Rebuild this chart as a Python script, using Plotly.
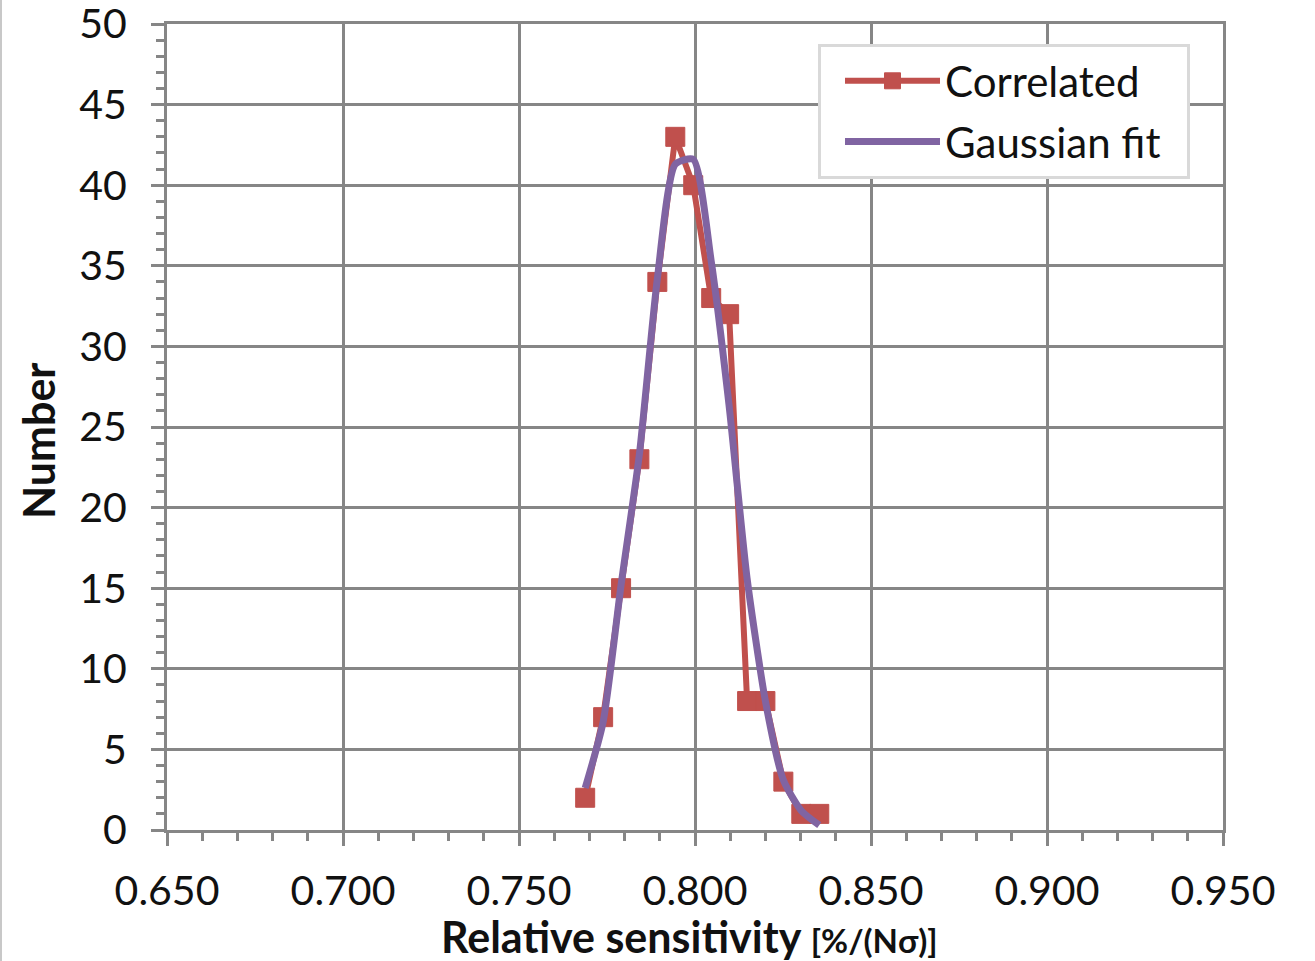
import plotly.graph_objects as go

# Histogram of relative sensitivity and its Gaussian fit
sensitivity = [0.7688, 0.7739, 0.7790, 0.7842, 0.7893, 0.7944, 0.7995,
               0.8046, 0.8097, 0.8148, 0.8200, 0.8251, 0.8302, 0.8353]
correlated = [2, 7, 15, 23, 34, 43, 40, 33, 32, 8, 8, 3, 1, 1]
gaussian_fit = [2.6, 6.7, 15.2, 23.3, 34.2, 41.3, 41.6, 35.3, 26.3,
                15.6, 8.0, 3.1, 1.2, 0.3]

x_ticks = [0.650, 0.700, 0.750, 0.800, 0.850, 0.900, 0.950]
y_ticks = [0, 5, 10, 15, 20, 25, 30, 35, 40, 45, 50]

RED = "#C0504D"
PURPLE = "#8064A2"
GRID = "#868686"
FONT = "Lato"
TEXT = "#111111"

W, H = 1315, 961
L, R, T, B = 167, 92, 24, 131
PW, PH = W - L - R, H - T - B

fig = go.Figure()
fig.add_trace(go.Scatter(
    x=sensitivity, y=correlated, name="Correlated", mode="lines+markers",
    line=dict(color=RED, width=6),
    marker=dict(symbol="square", size=19, color=RED, line=dict(color=RED, width=1)),
    legendgroup="a",
))
fig.add_trace(go.Scatter(
    x=sensitivity, y=gaussian_fit, name="Gaussian fit\u00a0\u00a0", mode="lines",
    line=dict(color=PURPLE, width=7, shape="spline", smoothing=0.6),
    legendgroup="b",
))

axis_common = dict(
    showline=True, linecolor=GRID, linewidth=3, mirror=True,
    showgrid=True, gridcolor=GRID, gridwidth=3,
    ticks="outside", ticklen=13, tickwidth=3, tickcolor=GRID,
    tickfont=dict(family=FONT, size=41, color=TEXT),
    ticklabeloverflow="allow", zeroline=False, automargin=False,
)

fig.update_xaxes(
    range=[0.650, 0.950], tickvals=x_ticks,
    ticktext=[f"{v:.3f}" for v in x_ticks],
    ticklabelstandoff=10,
    minor=dict(dtick=0.01, tick0=0.65, ticks="outside", ticklen=8,
               tickwidth=3, tickcolor=GRID, showgrid=False),
    **axis_common,
)
fig.update_yaxes(
    range=[0, 50], tickvals=y_ticks,
    ticklabelstandoff=16,
    minor=dict(dtick=1, tick0=0, ticks="outside", ticklen=8,
               tickwidth=3, tickcolor=GRID, showgrid=False),
    **axis_common,
)

fig.add_annotation(
    text="<b>Relative sensitivity <span style='font-size:33px'>[%/(Nσ)]</span></b>",
    xref="paper", yref="paper", x=(689 - L) / PW, y=-(936 - (T + PH)) / PH,
    xanchor="center", yanchor="middle", showarrow=False,
    font=dict(family=FONT, size=43, color=TEXT),
)
fig.add_annotation(
    text="<b>Number</b>", textangle=-90,
    xref="paper", yref="paper", x=(38 - L) / PW, y=(T + PH - 441) / PH,
    xanchor="center", yanchor="middle", showarrow=False,
    font=dict(family=FONT, size=43, color=TEXT),
)

# thin chart-area edge on the left
fig.add_shape(type="line", xref="paper", yref="paper",
              x0=(1 - L) / PW, x1=(1 - L) / PW, y0=-B / PH, y1=1 + T / PH,
              line=dict(color="#C8C8C8", width=2))

fig.update_layout(
    width=W, height=H,
    margin=dict(l=L, r=R, t=T, b=B, autoexpand=False),
    paper_bgcolor="white", plot_bgcolor="white",
    showlegend=True,
    legend=dict(
        x=(818 - L) / PW, y=(T + PH - 44) / PH, xanchor="left", yanchor="top",
        bgcolor="white", bordercolor="#D9D9D9", borderwidth=3,
        font=dict(family=FONT, size=42, color=TEXT),
        itemwidth=95, indentation=19, traceorder="grouped", tracegroupgap=3,
    ),
)

fig.write_html("out.html")
